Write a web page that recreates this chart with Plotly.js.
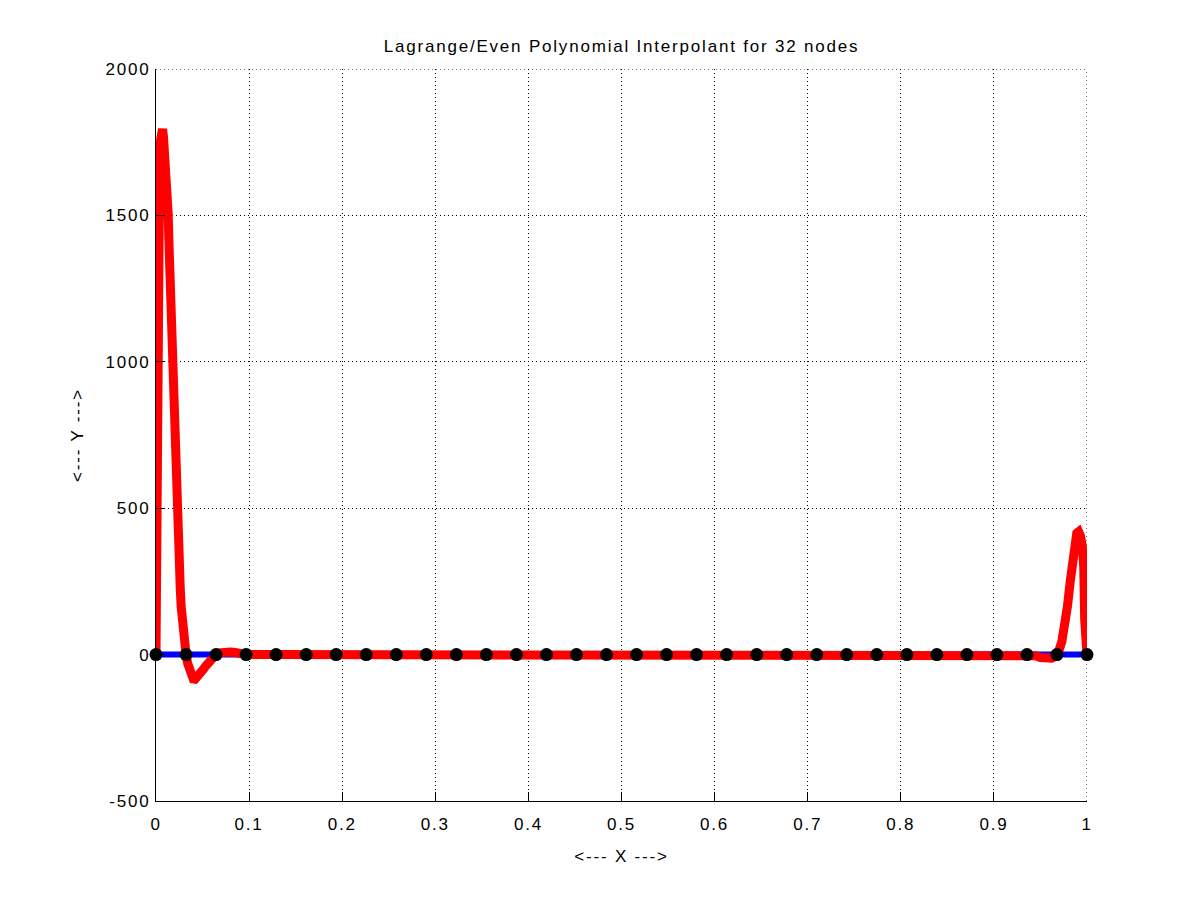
<!DOCTYPE html>
<html>
<head>
<meta charset="utf-8">
<script src="https://cdn.plot.ly/plotly-3.0.1.min.js"></script>
<style>
  html, body { margin: 0; padding: 0; background: #fff; }
  #chart { width: 1200px; height: 901px; }
  #chart .main-svg text { letter-spacing: 1.8px; }
</style>
</head>
<body>
<div id="chart"></div>
<script>
// Interpolation nodes (32 equally spaced nodes on [0,1])
const nodeX = [0, 0.0323, 0.0645, 0.0968, 0.129, 0.1613, 0.1935, 0.2258, 0.2581, 0.2903,
  0.3226, 0.3548, 0.3871, 0.4194, 0.4516, 0.4839, 0.5161, 0.5484, 0.5806, 0.6129,
  0.6452, 0.6774, 0.7097, 0.7419, 0.7742, 0.8065, 0.8387, 0.871, 0.9032, 0.9355, 0.9677, 1];
const nodeY = [0, 0, 0, 0, 0, 0, 0, 0, 0, 0,
  0, 0, 0, 0, 0, 0, 0, 0, 0, 0,
  0, 0, 0, 0, 0, 0, 0, 0, 0, 0, 0, 0];

// True function (blue): ~0 throughout
const funcX = [0, 0.0323, 0.0645, 0.0968, 0.129, 0.1613, 0.1935, 0.2258, 0.2581, 0.2903,
  0.3226, 0.3548, 0.3871, 0.4194, 0.4516, 0.4839, 0.5161, 0.5484, 0.5806, 0.6129,
  0.6452, 0.6774, 0.7097, 0.7419, 0.7742, 0.8065, 0.8387, 0.871, 0.9032, 0.9355, 0.9677, 1];
const funcY = [0, 0, 0, 0, 0, 0, 0, 0, 0, 0,
  0, 0, 0, 0, 0, 0, 0, 0, 0, 0,
  0, 0, 0, 0, 0, 0, 0, 0, 0, 0, 0, 0];

// Lagrange interpolant (red)
const interpX = [0, 0.001, 0.002, 0.003, 0.004, 0.005, 0.006, 0.007, 0.008, 0.009,
  0.010, 0.011, 0.012, 0.013, 0.014, 0.015, 0.016, 0.017, 0.018, 0.019,
  0.020, 0.021, 0.022, 0.023, 0.024, 0.025, 0.026, 0.027, 0.028, 0.029,
  0.030, 0.031, 0.0323, 0.034, 0.036, 0.038, 0.040, 0.042, 0.045, 0.048,
  0.051, 0.054, 0.057, 0.060, 0.0645, 0.068, 0.072, 0.076, 0.080, 0.085,
  0.090, 0.0968, 0.129, 0.1613, 0.1935, 0.2258, 0.2581, 0.2903, 0.3226, 0.3548,
  0.3871, 0.4194, 0.4516, 0.4839, 0.5161, 0.5484, 0.5806, 0.6129, 0.6452, 0.6774,
  0.7097, 0.7419, 0.7742, 0.8065, 0.8387, 0.871, 0.9032, 0.9355, 0.940, 0.945,
  0.950, 0.955, 0.958, 0.962, 0.965, 0.9677, 0.970, 0.973, 0.976, 0.979,
  0.982, 0.985, 0.987, 0.989, 0.991, 0.993, 0.995, 0.9965, 0.9975, 0.999, 1];
const interpY = [0, 700, 1250, 1560, 1700, 1760, 1790, 1795, 1770, 1730,
  1690, 1640, 1580, 1510, 1400, 1280, 1160, 1040, 920, 820,
  720, 625, 540, 460, 380, 300, 230, 165, 110, 65,
  30, 8, 0, -30, -55, -73, -83, -84, -76, -63,
  -50, -37, -25, -13, 0, 6, 9, 10, 9, 7,
  4, 0, 0, 0, 0, 0, 0, 0, 0, 0,
  0, 0, 0, 0, 0, 0, 0, 0, 0, 0,
  0, 0, 0, 0, 0, 0, 0, 0, 2, -4,
  -10, -14, -15, -12, -7, 0, 15, 45, 95, 165,
  250, 335, 385, 415, 420, 405, 370, 300, 120, 20, 0];

// Tick labels
const xTickVals = [0, 0.1, 0.2, 0.3, 0.4, 0.5, 0.6, 0.7, 0.8, 0.9, 1];
const xTickText = ['0', '0.1', '0.2', '0.3', '0.4', '0.5', '0.6', '0.7', '0.8', '0.9', '1'];
const yTickVals = [-500, 0, 500, 1000, 1500, 2000];
const yTickText = ['-500', '0', '500', '1000', '1500', '2000'];

const FONT = { family: 'Liberation Sans, Arial, sans-serif', size: 17, color: '#000' };
const GRID_DASH = '1px,3px';

const traces = [
  {
    x: funcX, y: funcY, type: 'scatter', mode: 'lines',
    line: { color: '#0000ff', width: 6 },
    hoverinfo: 'skip', showlegend: false
  },
  {
    x: interpX, y: interpY, type: 'scatter', mode: 'lines',
    line: { color: '#ff0000', width: 9 },
    hoverinfo: 'skip', showlegend: false
  },
  {
    x: nodeX, y: nodeY, type: 'scatter', mode: 'markers',
    marker: { color: '#000', size: 13, line: { width: 0 } },
    cliponaxis: false, hoverinfo: 'skip', showlegend: false
  }
];

const axisCommon = {
  showline: true, linecolor: '#000', linewidth: 1, mirror: false,
  ticks: 'inside', ticklen: 9, tickcolor: '#000', tickwidth: 1,
  showgrid: true, gridcolor: '#000', gridwidth: 1, griddash: GRID_DASH,
  zeroline: false, tickfont: FONT, tickmode: 'array', fixedrange: true
};

// Dotted grid lines along the top and right edges (Plotly skips edge grid lines)
const xMax = xTickVals[xTickVals.length - 1];
const yMax = yTickVals[yTickVals.length - 1];
const edgeGrid = [
  { type: 'line', xref: 'paper', x0: 0, x1: 1, yref: 'y', y0: yMax, y1: yMax,
    line: { color: '#000', width: 1, dash: GRID_DASH }, layer: 'below' },
  { type: 'line', xref: 'x', x0: xMax, x1: xMax, yref: 'paper', y0: 0, y1: 1,
    line: { color: '#000', width: 1, dash: GRID_DASH }, layer: 'below' }
];

const layout = {
  width: 1200, height: 901,
  margin: { l: 156, r: 113, t: 69, b: 100, pad: 0 },
  paper_bgcolor: '#fff', plot_bgcolor: '#fff',
  font: FONT,
  showlegend: false,
  shapes: edgeGrid,
  title: {
    text: 'Lagrange/Even Polynomial Interpolant for 32 nodes',
    font: FONT, xref: 'paper', x: 0.5, xanchor: 'center',
    yref: 'container', y: 1 - 46 / 901, yanchor: 'middle'
  },
  xaxis: Object.assign({}, axisCommon, {
    range: [0, 1], tickvals: xTickVals, ticktext: xTickText,
    ticklabelstandoff: 8,
    title: { text: '<--- X --->', font: FONT, standoff: 16 }
  }),
  yaxis: Object.assign({}, axisCommon, {
    range: [-500, 2000], tickvals: yTickVals, ticktext: yTickText,
    ticklabelstandoff: 1,
    title: { text: '<--- Y --->', font: FONT, standoff: 24 }
  })
};

Plotly.newPlot('chart', traces, layout, { displayModeBar: false, staticPlot: true });
</script>
</body>
</html>
